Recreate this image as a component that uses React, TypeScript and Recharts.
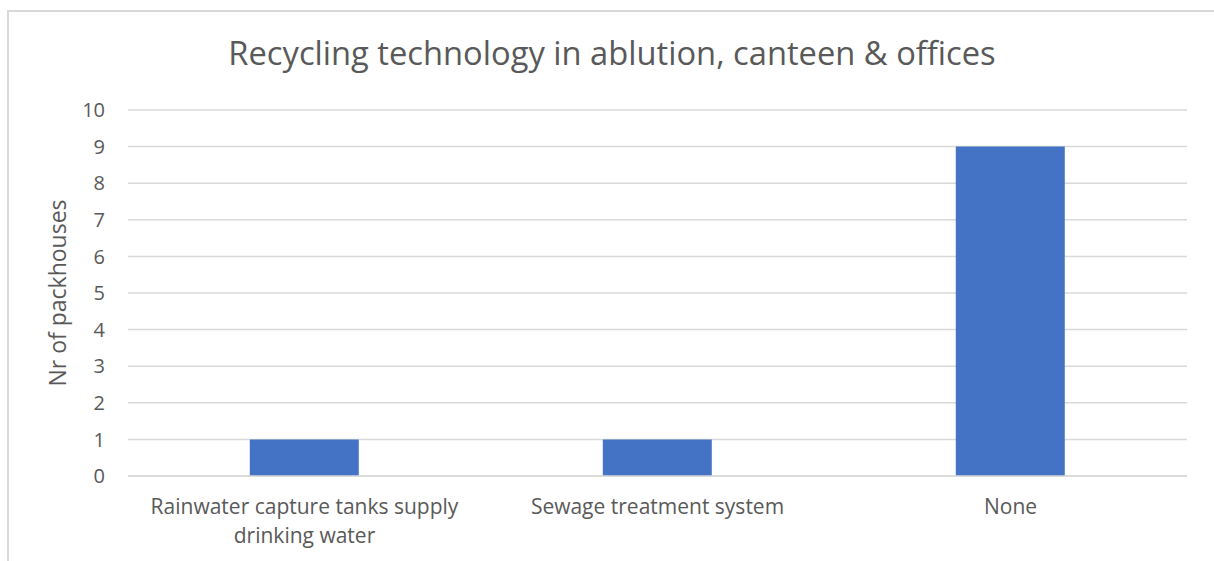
import React from 'react';
import { BarChart, Bar, XAxis, YAxis, CartesianGrid } from 'recharts';

const categories = ['Rainwater capture tanks supply drinking water', 'Sewage treatment system', 'None'];
const values = [1, 1, 9];
const yTicks = [0, 1, 2, 3, 4, 5, 6, 7, 8, 9, 10];
const title = 'Recycling technology in ablution, canteen & offices';
const yLabel = 'Nr of packhouses';

const data = categories.map((c, i) => ({ name: c, value: values[i] }));

const FONT = '"Open Sans", sans-serif';
const GRAY = '#595959';

const wrap = (s: string, max: number) => {
  const words = s.split(' ');
  const lines: string[] = [];
  let cur = '';
  for (const w of words) {
    const t = cur ? cur + ' ' + w : w;
    if (t.length > max && cur) { lines.push(cur); cur = w; } else cur = t;
  }
  if (cur) lines.push(cur);
  return lines;
};

const XTick = (props: any) => {
  const { x, y, payload } = props;
  const lines = wrap(String(payload.value), 30);
  return (
    <text x={x} y={y} textAnchor="middle" fill={GRAY} fontSize={21} fontFamily={FONT}>
      {lines.map((l, i) => (
        <tspan key={i} x={x} dy={i === 0 ? '0.95em' : 29}>{l}</tspan>
      ))}
    </text>
  );
};

export default function App() {
  return (
    <div style={{ position: 'absolute', left: 0, top: 0, width: 1214, height: 561, overflow: 'hidden', background: '#fff' }}>
      <div style={{ position: 'absolute', left: 7, top: 10, width: 1260, height: 620, border: '2px solid #d9d9d9', boxSizing: 'border-box' }} />
      <div style={{ position: 'absolute', left: 0, top: 0 }}>
        <BarChart width={1214} height={561} data={data}
          margin={{ top: 110, right: 27, bottom: 0, left: 0 }} barCategoryGap="34.5%">
          <text x={612} y={56} textAnchor="middle" dominantBaseline="middle" fontSize={32.7} fontFamily={FONT} fill={GRAY}>{title}</text>
          <text x={0} y={0} transform="translate(60,293) rotate(-90)" textAnchor="middle" dominantBaseline="middle" fontSize={23} fontFamily={FONT} fill={GRAY}>{yLabel}</text>
          <CartesianGrid vertical={false} stroke="#d9d9d9" strokeWidth={1.5} />
          <XAxis dataKey="name" height={85} axisLine={{ stroke: '#d9d9d9', strokeWidth: 1.5 }} tickLine={false} tickSize={0} tickMargin={18}
            interval={0} tick={<XTick />} />
          <YAxis width={128} domain={[0, 10]} ticks={yTicks} axisLine={false} tickLine={false} tickSize={0} tickMargin={23}
            tick={{ fill: GRAY, fontSize: 20, fontFamily: FONT }} />
          <Bar dataKey="value" fill="#4472c4" isAnimationActive={false} />
        </BarChart>
      </div>
    </div>
  );
}
